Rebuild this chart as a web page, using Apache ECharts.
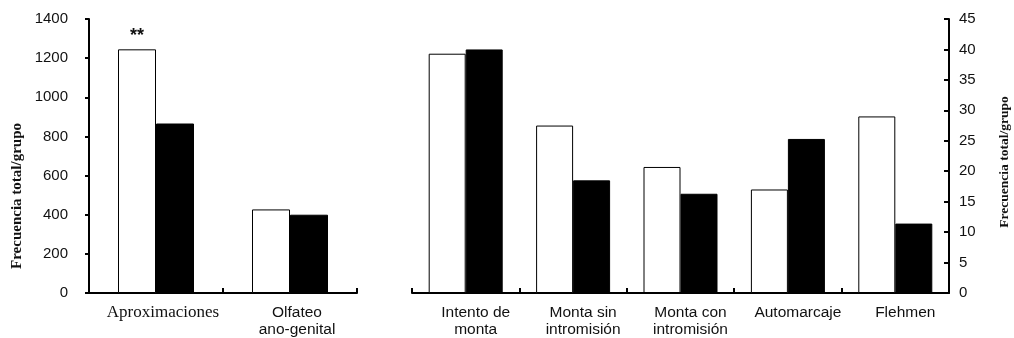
<!DOCTYPE html>
<html>
<head>
<meta charset="utf-8">
<script src="https://cdn.jsdelivr.net/npm/echarts@6/dist/echarts.min.js"></script>
<style>
  html, body { margin: 0; padding: 0; background: #fff; }
  #chart { width: 1014px; height: 338px; }
</style>
</head>
<body>
<div id="chart"></div>
<script>
// Left panel: approaches and ano-genital sniffing (total frequency per group)
const categoriesLeft = ['Aproximaciones', 'Olfateo\nano-genital'];
const whiteLeft = [1245, 427];
const blackLeft = [866, 400];
const significanceLeft = ['**', ''];
const leftAxis = { min: 0, max: 1400, interval: 200 };

// Right panel: mounting and other sexual behaviours
const categoriesRight = ['Intento de\nmonta', 'Monta sin\nintromisión', 'Monta con\nintromisión', 'Automarcaje', 'Flehmen'];
const whiteRight = [39.3, 27.5, 20.7, 17.0, 29.0];
const blackRight = [40, 18.5, 16.3, 25.3, 11.4];
const rightAxis = { min: 0, max: 45, interval: 5 };

const axisTitle = 'Frecuencia total/grupo';

const SANS = '"Liberation Sans", Arial, sans-serif';
const SERIF = '"Liberation Serif", "Times New Roman", serif';

const chart = echarts.init(document.getElementById('chart'), null, { renderer: 'canvas' });

const axisLine = { show: true, lineStyle: { color: '#000', width: 2 } };

function categoryAxis(gridIndex, data, padLeft) {
  return {
    type: 'category',
    gridIndex: gridIndex,
    data: data,
    axisLine: axisLine,
    axisTick: { show: true, inside: true, length: 5, lineStyle: { color: '#000', width: 2 }, interval: 0 },
    axisLabel: {
      interval: 0,
      margin: 11,
      color: '#111',
      fontFamily: SANS,
      fontSize: 15.5,
      lineHeight: 17,
      padding: [0, 0, 0, padLeft],
      formatter: function (v) {
        return v === 'Aproximaciones' ? '{serif|' + v + '}' : v;
      },
      rich: {
        serif: { fontFamily: SERIF, fontSize: 17, color: '#111', lineHeight: 17 }
      }
    }
  };
}

function valueAxis(gridIndex, range, position) {
  const right = position === 'right';
  return {
    type: 'value',
    gridIndex: gridIndex,
    position: position,
    min: range.min,
    max: range.max,
    interval: range.interval,
    splitLine: { show: false },
    axisLine: axisLine,
    axisTick: { show: true, inside: right, length: right ? 5 : 4, lineStyle: { color: '#000', width: 2 } },
    axisLabel: {
      margin: right ? 10 : 21,
      color: '#111',
      fontFamily: SANS,
      fontSize: 15,
      formatter: function (v) { return String(v); }
    }
  };
}

const whiteStyle = { color: '#fff', borderColor: '#000', borderWidth: 1 };
const blackStyle = { color: '#000', borderColor: '#000', borderWidth: 1 };

chart.setOption({
  animation: false,
  backgroundColor: '#fff',
  grid: [
    { left: 89, top: 19, width: 268, height: 275 },
    { left: 412, top: 19, width: 537, height: 274 }
  ],
  xAxis: [
    categoryAxis(0, categoriesLeft, 14),
    categoryAxis(1, categoriesRight, 20)
  ],
  yAxis: [
    valueAxis(0, leftAxis, 'left'),
    valueAxis(1, rightAxis, 'right')
  ],
  series: [
    {
      type: 'bar', xAxisIndex: 0, yAxisIndex: 0,
      barWidth: 38, barGap: '0%',
      itemStyle: whiteStyle,
      data: whiteLeft.map(function (v, i) {
        return {
          value: v,
          label: {
            show: significanceLeft[i] !== '',
            position: 'top',
            distance: 4,
            formatter: significanceLeft[i],
            color: '#111',
            fontFamily: SANS,
            fontWeight: 'bold',
            fontSize: 18
          }
        };
      })
    },
    {
      type: 'bar', xAxisIndex: 0, yAxisIndex: 0,
      barWidth: 38, barGap: '0%',
      itemStyle: blackStyle,
      data: blackLeft
    },
    {
      type: 'bar', xAxisIndex: 1, yAxisIndex: 1,
      barWidth: 37, barGap: '0%',
      itemStyle: whiteStyle,
      data: whiteRight
    },
    {
      type: 'bar', xAxisIndex: 1, yAxisIndex: 1,
      barWidth: 37, barGap: '0%',
      itemStyle: blackStyle,
      data: blackRight
    }
  ],
  graphic: [
    {
      type: 'text', x: 17, y: 196, rotation: Math.PI / 2,
      style: {
        text: axisTitle, fill: '#111',
        font: 'bold 15px ' + SERIF,
        align: 'center', verticalAlign: 'middle'
      }
    },
    {
      type: 'text', x: 1005, y: 162, rotation: Math.PI / 2,
      style: {
        text: axisTitle, fill: '#111',
        font: 'bold 13.5px ' + SERIF,
        align: 'center', verticalAlign: 'middle'
      }
    }
  ]
});
</script>
</body>
</html>
